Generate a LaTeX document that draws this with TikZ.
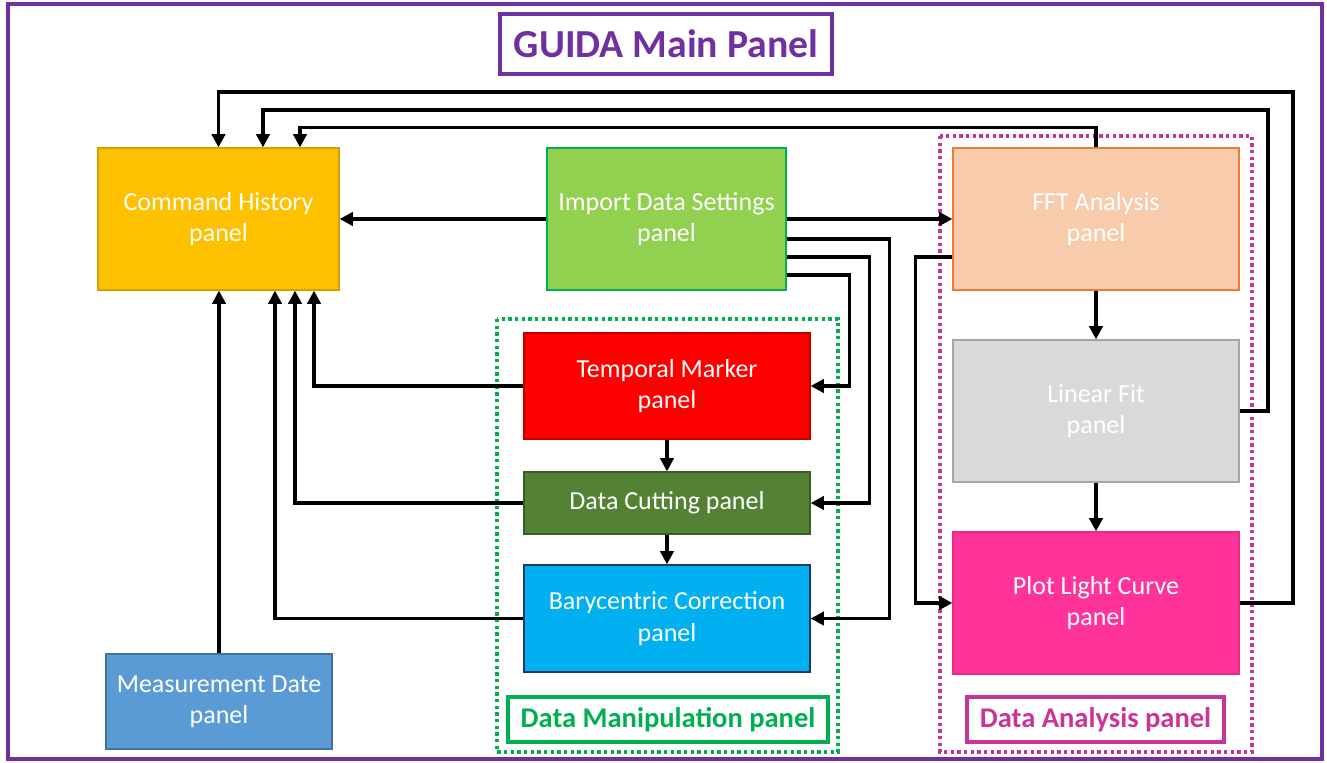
\documentclass[tikz,border=0pt]{standalone}
\usepackage{fontspec}
\setmainfont{Carlito}
\usetikzlibrary{arrows.meta,calc}
\definecolor{purp}{HTML}{7030A0}
\definecolor{grn}{HTML}{00B050}
\definecolor{pnk}{HTML}{CC3399}
\definecolor{gold}{HTML}{FFC000}
\begin{document}
\begin{tikzpicture}[x=0.75pt,y=-0.75pt,
  panel/.style={draw, line width=0.9pt, text=white, align=center,
    font=\fontsize{19.5}{23.5}\selectfont, inner sep=0pt},
  arr/.style={draw=black, line width=2.5pt, -{Triangle[length=10pt,width=10pt]}},
  dotframe/.style={line width=2.8pt, dash pattern=on 2.4pt off 2.6pt},
  lbl/.style={draw, line width=2.6pt, font=\bfseries\fontsize{21.4}{24}\selectfont, inner sep=0pt, minimum height=45*0.75pt}]
\useasboundingbox (0,0) rectangle (1327,763);
% outer frame
\draw[purp, line width=2.6pt] (8,4) rectangle (1322,759);
% title
\node[draw=purp, line width=2.6pt, text=purp, font=\bfseries\fontsize{29.8}{32}\selectfont,
  minimum width=332*0.75pt, minimum height=60*0.75pt, inner sep=0pt] (title) at (666,44) {GUIDA Main Panel};
% group frames
\draw[grn, dotframe] (497,319) rectangle (838,752);
\draw[pnk, dotframe] (940,136) rectangle (1252,752);
\node[lbl, draw=grn, text=grn, minimum width=320*0.75pt] (dmlbl) at (668,719.5) {Data Manipulation panel};
\node[lbl, draw=pnk, text=pnk, minimum width=257*0.75pt] (dalbl) at (1095.5,719.5) {Data Analysis panel};
% panels
\node[panel, fill=gold, draw={rgb,255:red,214;green,160;blue,0}, minimum width=241*0.75pt, minimum height=142*0.75pt] (ch) at (218.5,219) {Command History\\panel};
\node[panel, fill={rgb,255:red,146;green,208;blue,80}, draw=grn, minimum width=239*0.75pt, minimum height=142*0.75pt] (imp) at (666.5,219) {Import Data Settings\\panel};
\node[panel, fill={rgb,255:red,248;green,203;blue,173}, draw={rgb,255:red,237;green,125;blue,49}, minimum width=286*0.75pt, minimum height=142*0.75pt] (fft) at (1096,219) {FFT Analysis\\panel};
\node[panel, fill={rgb,255:red,217;green,217;blue,217}, draw={rgb,255:red,166;green,166;blue,166}, minimum width=286*0.75pt, minimum height=142*0.75pt] (lin) at (1096,411) {Linear Fit\\panel};
\node[panel, fill={rgb,255:red,255;green,51;blue,153}, draw={rgb,255:red,230;green,40;blue,140}, minimum width=286*0.75pt, minimum height=142*0.75pt] (plot) at (1096,603) {Plot Light Curve\\panel};
\node[panel, fill=red, draw={rgb,255:red,192;green,0;blue,0}, minimum width=286*0.75pt, minimum height=106*0.75pt] (tm) at (667,386) {Temporal Marker\\panel};
\node[panel, fill={rgb,255:red,84;green,130;blue,53}, draw={rgb,255:red,58;green,90;blue,40}, minimum width=286*0.75pt, minimum height=62*0.75pt] (cut) at (667,503) {Data Cutting panel};
\node[panel, fill={rgb,255:red,0;green,176;blue,240}, draw={rgb,255:red,31;green,56;blue,100}, minimum width=286*0.75pt, minimum height=107*0.75pt] (bary) at (667,618.5) {Barycentric Correction\\panel};
\node[panel, fill={rgb,255:red,91;green,155;blue,213}, draw={rgb,255:red,65;green,113;blue,156}, minimum width=226*0.75pt, minimum height=95*0.75pt] (md) at (219,701.5) {Measurement Date\\panel};
% routing coordinates
\coordinate (t1) at (1293,92);
\coordinate (t2) at (1268,110);
% connectors
\draw[arr] (imp.west) -- (ch.east);
\draw[arr] (imp.east) -- (fft.west);
\draw[arr] ($(imp.east)+(0,20)$) -- ++(103,0) |- (bary.east);
\draw[arr] ($(imp.east)+(0,38)$) -- ++(83,0) |- (cut.east);
\draw[arr] ($(imp.east)+(0,56)$) -- ++(63,0) |- (tm.east);
\draw[arr] ($(fft.west)+(0,38)$) -- ++(-37,0) |- (plot.west);
\draw[arr] (tm.south) -- (cut.north);
\draw[arr] (cut.south) -- (bary.north);
\draw[arr] (fft.south) -- (lin.north);
\draw[arr] (lin.south) -- (plot.north);
\draw[arr] (tm.west) -| ($(ch.south)+(95.5,0)$);
\draw[arr] (cut.west) -| ($(ch.south)+(76.5,0)$);
\draw[arr] (bary.west) -| ($(ch.south)+(56.5,0)$);
\draw[arr] (md.north) -- (md.north |- ch.south);
\draw[arr] (plot.east) -| (t1) -| (ch.north);
\draw[arr] (lin.east) -| (t2) -| ($(ch.north)+(44.5,0)$);
\draw[arr] (fft.north) -- ++(0,-20) -| ($(ch.north)+(81.5,0)$);
\end{tikzpicture}
\end{document}
